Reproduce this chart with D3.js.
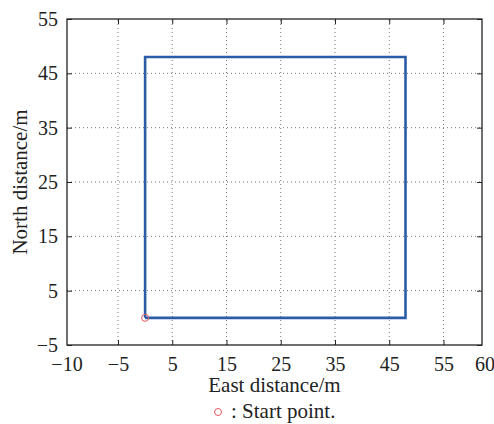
<!DOCTYPE html>
<html>
<head>
<meta charset="utf-8">
<script src="https://cdn.jsdelivr.net/npm/d3@7"></script>
<style>
  body { margin: 0; background: #fff; }
  text { font-family: "Liberation Serif", "Times New Roman", serif; fill: #222; }
</style>
</head>
<body>
<div class="chartContainer"></div>
<script>
// Data
const pathX = [0, 0, 48, 48, 0];
const pathY = [0, 48, 48, 0, 0];
const startPoint = [0, 0];
const xTicks = [-5, 5, 15, 25, 35, 45, 55];
const yTicks = [-5, 5, 15, 25, 35, 45, 55];
const xEdgeLabels = ["\u221210", "60"];

const W = 494;
const H = 424;
const M = { left: 67, right: 12, top: 19, bottom: 79 };
const FS = "20px";

const svg = d3
  .select(".chartContainer")
  .append("svg")
  .attr("width", W)
  .attr("height", H);

// Scales (equal aspect)
var x = d3.scaleLinear().domain([-14.4, 62.1]).range([M.left, W - M.right]);
var y = d3.scaleLinear().domain([-5, 55]).range([H - M.bottom, M.top]);

const x0 = M.left, x1 = W - M.right, y0 = H - M.bottom, y1 = M.top;

// Grid
var grid = svg.append("g").attr("class", "grid");
grid
  .selectAll("line.gx")
  .data(xTicks)
  .enter()
  .append("line")
  .attr("x1", (d) => x(d))
  .attr("x2", (d) => x(d))
  .attr("y1", y0)
  .attr("y2", y1)
  .attr("stroke", "#777")
  .attr("stroke-width", 1)
  .attr("stroke-dasharray", "1,3");
grid
  .selectAll("line.gy")
  .data(yTicks.filter((d) => d > -5 && d < 55))
  .enter()
  .append("line")
  .attr("x1", x0)
  .attr("x2", x1)
  .attr("y1", (d) => y(d))
  .attr("y2", (d) => y(d))
  .attr("stroke", "#777")
  .attr("stroke-width", 1)
  .attr("stroke-dasharray", "1,3");

// Path
var line = d3
  .line()
  .x((d) => x(d[0]))
  .y((d) => y(d[1]));
svg
  .append("path")
  .datum(pathX.map((v, i) => [v, pathY[i]]))
  .attr("d", line)
  .attr("fill", "none")
  .attr("stroke", "#2b5ca8")
  .attr("stroke-width", 2.6);

// Start point
svg
  .append("circle")
  .attr("cx", x(startPoint[0]))
  .attr("cy", y(startPoint[1]))
  .attr("r", 3.5)
  .attr("fill", "none")
  .attr("stroke", "#e8585c")
  .attr("stroke-width", 1);

// Axes (ticks inward)
const tickSize = 5;
const minus = (d) => String(d).replace("-", "\u2212");
svg
  .append("g")
  .attr("transform", "translate(0," + y0 + ")")
  .call(d3.axisBottom(x).tickValues(xTicks).tickSizeInner(-tickSize).tickSizeOuter(0).tickFormat(d3.format("")))
  .call((g) => g.select(".domain").remove())
  .call((g) => g.selectAll("text").attr("dy", null).attr("y", 26).style("font-size", FS).text(minus));
svg
  .append("g")
  .attr("transform", "translate(0," + y1 + ")")
  .call(d3.axisTop(x).tickValues(xTicks).tickSizeInner(-tickSize).tickSizeOuter(0).tickFormat(""))
  .call((g) => g.select(".domain").remove());
svg
  .append("g")
  .attr("transform", "translate(" + x0 + ",0)")
  .call(d3.axisLeft(y).tickValues(yTicks).tickSizeInner(-tickSize).tickSizeOuter(0).tickFormat(d3.format("")))
  .call((g) => g.select(".domain").remove())
  .call((g) => g.selectAll("text").attr("x", -9).attr("dy", "0.32em").style("font-size", FS).text(minus));
svg
  .append("g")
  .attr("transform", "translate(" + x1 + ",0)")
  .call(d3.axisRight(y).tickValues(yTicks).tickSizeInner(-tickSize).tickSizeOuter(0).tickFormat(""))
  .call((g) => g.select(".domain").remove());
svg.selectAll(".tick line").attr("stroke", "#222");

// Edge labels on x axis
svg
  .selectAll("text.edge")
  .data(xEdgeLabels)
  .enter()
  .append("text")
  .attr("class", "edge")
  .attr("x", (d, i) => (i === 0 ? x0 : x1 + 3))
  .attr("y", y0 + 26)
  .attr("text-anchor", "middle")
  .style("font-size", FS)
  .text((d) => d);

// Box
svg
  .append("rect")
  .attr("x", x0)
  .attr("y", y1)
  .attr("width", x1 - x0)
  .attr("height", y0 - y1)
  .attr("fill", "none")
  .attr("stroke", "#222")
  .attr("stroke-width", 1.3);

// Axis titles
svg
  .append("text")
  .attr("x", (x0 + x1) / 2)
  .attr("y", 392)
  .attr("text-anchor", "middle")
  .style("font-size", "21px")
  .text("East distance/m");
svg
  .append("text")
  .attr("transform", "translate(27," + (y0 + y1) / 2 + ") rotate(-90)")
  .attr("text-anchor", "middle")
  .style("font-size", "21px")
  .text("North distance/m");

// Legend
svg
  .append("circle")
  .attr("cx", 218)
  .attr("cy", 412)
  .attr("r", 3.5)
  .attr("fill", "none")
  .attr("stroke", "#e8585c")
  .attr("stroke-width", 1);
svg
  .append("text")
  .attr("x", 231)
  .attr("y", 418)
  .style("font-size", "21px")
  .text(": Start point.");
</script>
</body>
</html>
